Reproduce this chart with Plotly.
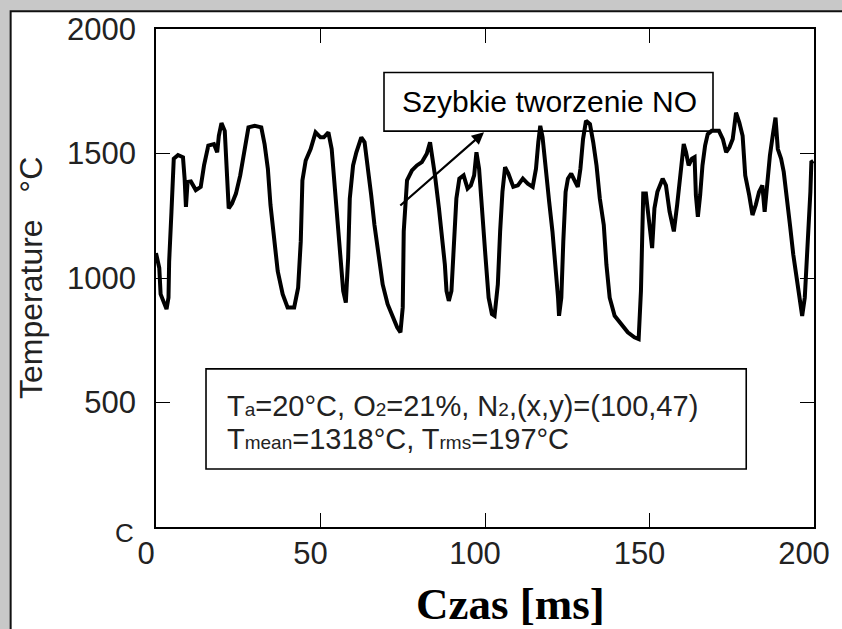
import plotly.graph_objects as go

# ---- data ----
time_ms = [0.0, 1.0, 1.4, 2.2, 3.2, 3.8, 4.0, 4.7, 5.4, 6.7, 8.2, 8.7, 9.1, 9.6, 10.6,
           12.1, 13.6, 14.6, 15.9, 17.6, 18.6, 19.1, 19.9, 20.9, 21.6, 22.1, 23.1, 24.3,
           25.6, 27.1, 28.1, 30.0, 32.0, 33.0, 34.0, 34.8, 35.8, 37.0, 38.5, 40.0, 42.0,
           43.2, 44.0, 44.5, 45.5, 47.0, 48.5, 50.0, 51.0, 52.4, 53.4, 54.4, 55.4, 56.1,
           56.9, 57.7, 58.4, 58.9, 59.9, 60.9, 62.4, 63.4, 64.4, 65.4, 66.4, 67.4, 68.9,
           70.4, 71.9, 73.3, 74.3, 75.0, 75.3, 75.8, 76.3, 77.8, 79.3, 80.8, 82.3, 83.3,
           84.0, 84.8, 86.0, 86.8, 87.8, 88.3, 89.0, 89.8, 90.6, 91.3, 92.2, 93.5, 94.7,
           95.7, 96.7, 97.4, 98.2, 99.2, 100.1, 101.1, 102.1, 102.9, 103.9, 104.6, 105.3,
           106.1, 107.1, 108.6, 110.0, 111.5, 113.0, 114.5, 115.5, 116.2, 116.8, 117.5,
           118.5, 119.5, 120.5, 121.5, 122.2, 122.5, 123.2, 123.8, 124.5, 125.2, 126.2,
           127.2, 128.2, 129.0, 129.8, 130.7, 131.9, 132.9, 133.9, 134.9, 136.1, 136.9,
           137.9, 139.4, 141.4, 143.4, 145.4, 146.7, 147.4, 147.7, 148.1, 148.9, 150.0,
           150.8, 151.5, 152.4, 154.0, 155.0, 156.1, 157.4, 158.4, 159.2, 159.9, 160.4,
           161.1, 161.9, 162.9, 163.7, 164.1, 164.7, 165.4, 166.1, 166.9, 167.7, 168.9,
           171.1, 172.3, 173.3, 174.3, 175.3, 176.3, 177.3, 178.3, 179.1, 180.3, 181.3,
           182.3, 183.3, 184.3, 185.0, 185.8, 186.6, 187.6, 188.3, 189.0, 190.0, 190.8,
           191.7, 192.7, 193.7, 194.7, 195.7, 196.4, 197.2, 197.9, 198.5, 198.9, 199.2,
           199.8]
temperature_c = [1100, 1040, 935, 908, 875, 921, 1067, 1266, 1479, 1494, 1485, 1399, 1286,
                 1386, 1388, 1353, 1366, 1452, 1532, 1538, 1505, 1571, 1622, 1591, 1399,
                 1280, 1299, 1339, 1412, 1532, 1605, 1611, 1605, 1538, 1439, 1293, 1173,
                 1027, 935, 882, 882, 961, 1147, 1392, 1472, 1518, 1585, 1565, 1565, 1585,
                 1518, 1359, 1200, 1081, 948, 901, 1081, 1319, 1452, 1505, 1565, 1545,
                 1452, 1333, 1213, 1120, 974, 895, 842, 802, 782, 882, 1187, 1319, 1392,
                 1432, 1452, 1465, 1499, 1545, 1485, 1412, 1280, 1187, 1054, 948, 908, 948,
                 1160, 1319, 1399, 1412, 1359, 1372, 1412, 1505, 1439, 1280, 1094, 921,
                 855, 848, 974, 1187, 1346, 1445, 1419, 1366, 1372, 1399, 1379, 1366,
                 1439, 1545, 1611, 1565, 1452, 1306, 1187, 1041, 921, 848, 921, 1147,
                 1346, 1399, 1419, 1392, 1366, 1439, 1558, 1631, 1618, 1545, 1452, 1319,
                 1213, 1054, 921, 848, 815, 782, 762, 755, 948, 1147, 1339, 1339, 1213,
                 1120, 1280, 1346, 1399, 1372, 1266, 1187, 1293, 1386, 1465, 1538, 1505,
                 1452, 1479, 1485, 1333, 1246, 1333, 1452, 1532, 1578, 1591, 1591, 1558,
                 1505, 1525, 1558, 1664, 1624, 1571, 1412, 1333, 1253, 1293, 1346, 1372,
                 1266, 1379, 1492, 1585, 1644, 1518, 1479, 1426, 1333, 1213, 1094, 1001,
                 895, 848, 921, 1081, 1187, 1346, 1465, 1470]

x_ticks = [0, 50, 100, 150, 200]
y_ticks = [500, 1000, 1500, 2000]
y_tick_labels = ["500", "1000", "1500", "2000"]

x_title = "Czas [ms]"
y_title = "Temperature\u00a0\u00a0\u00a0°C"
note_text = "Szybkie tworzenie NO"
SUB = "<span style='font-size:19px'>{}</span>"
info_line1 = ("T" + SUB.format("a") + "=20°C, O" + SUB.format("2") + "=21%, N"
              + SUB.format("2") + ",(x,y)=(100,47)")
info_line2 = "T" + SUB.format("mean") + "=1318°C, T" + SUB.format("rms") + "=197°C"

SANS = "Liberation Sans, Arial, Helvetica, sans-serif"
SERIF = "Liberation Serif, Times New Roman, serif"

fig = go.Figure()
fig.add_trace(go.Scatter(x=time_ms, y=temperature_c, mode="lines",
                         line=dict(color="black", width=4), showlegend=False,
                         hoverinfo="skip"))

axis_common = dict(showgrid=False, zeroline=False, showline=True, linecolor="black",
                   linewidth=1.6, mirror="ticks", ticks="inside", ticklen=14,
                   tickwidth=1.3, tickcolor="black",
                   tickfont=dict(family=SANS, size=31, color="#222"))

fig.update_xaxes(range=[0, 200], tickvals=x_ticks, ticklabelshift=-10,
                 ticklabelstandoff=-2, **axis_common)
fig.update_yaxes(range=[0, 2000], tickvals=y_ticks, ticktext=y_tick_labels,
                 ticklabelstandoff=12, **axis_common)

shapes = [
    # white panel with dark border on grey page
    dict(type="rect", xref="paper", yref="paper", x0=-0.2209, x1=1.3, y0=-0.4, y1=1.0358,
         fillcolor="white", line=dict(color="#111", width=2), layer="below"),
    # note box
    dict(type="rect", xref="x", yref="y", x0=69.3, x1=169.3, y0=1590, y1=1825,
         fillcolor="white", line=dict(color="black", width=1.6), layer="below"),
    # info box
    dict(type="rect", xref="x", yref="y", x0=15.2, x1=179.4, y0=233, y1=635,
         fillcolor="rgba(0,0,0,0)", line=dict(color="black", width=1.6), layer="above"),
]

annotations = [
    dict(x=119.5, y=1708, xref="x", yref="y", text=note_text, showarrow=False,
         font=dict(family=SANS, size=30, color="black"), xanchor="center", yanchor="middle"),
    dict(x=99.7, y=1585, xref="x", yref="y", ax=73.8, ay=1286, axref="x", ayref="y",
         text="", showarrow=True, arrowhead=2, arrowsize=1.1, arrowwidth=2.2,
         arrowcolor="black"),
    dict(x=20.9, y=484, xref="x", yref="y", text=info_line1, showarrow=False,
         font=dict(family=SANS, size=29, color="#222"), xanchor="left", yanchor="middle"),
    dict(x=20.9, y=352, xref="x", yref="y", text=info_line2, showarrow=False,
         font=dict(family=SANS, size=29, color="#222"), xanchor="left", yanchor="middle"),
    dict(x=-0.19, y=0.5, xref="paper", yref="paper", text=y_title, textangle=-90,
         showarrow=False, font=dict(family=SANS, size=32, color="#222"),
         xanchor="center", yanchor="middle"),
    dict(x=0.538, y=-0.155, xref="paper", yref="paper", text="<b>" + x_title + "</b>",
         showarrow=False, font=dict(family=SERIF, size=45, color="black"),
         xanchor="center", yanchor="middle"),
    dict(x=-0.031, y=-0.012, xref="paper", yref="paper", text="C", showarrow=False,
         font=dict(family=SANS, size=26, color="#222"), xanchor="right", yanchor="middle"),
]

fig.update_layout(width=842, height=629, margin=dict(l=156, r=16, t=24, b=102, pad=0),
                  paper_bgcolor="#c8c8c8", plot_bgcolor="white",
                  shapes=shapes, annotations=annotations)

fig.write_html("out.html", config={"displayModeBar": False})
